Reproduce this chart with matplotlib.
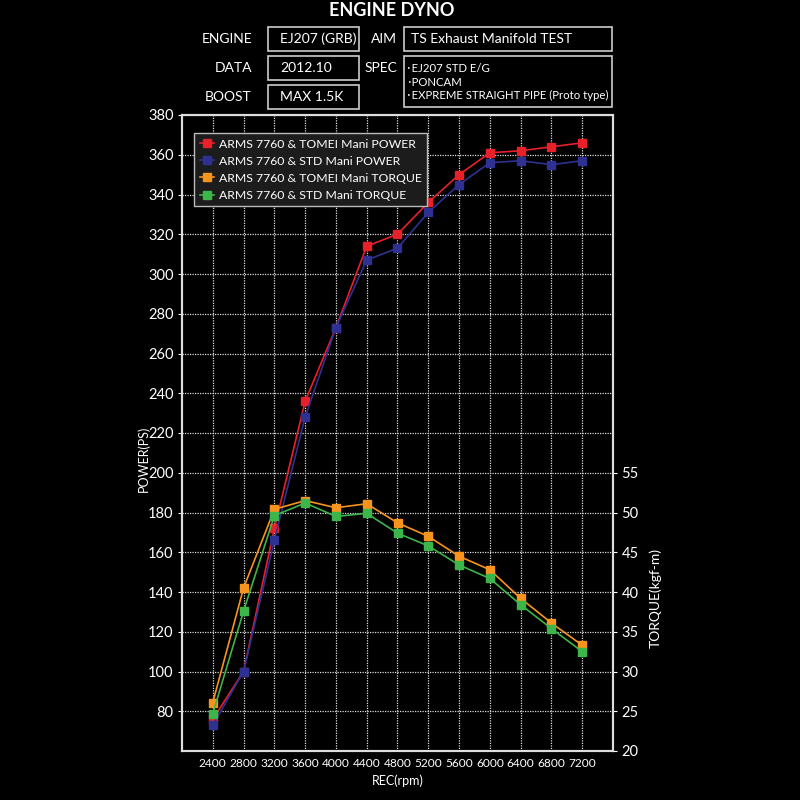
import matplotlib
matplotlib.use("Agg")
import matplotlib.pyplot as plt
from matplotlib.patches import Rectangle

plt.rcParams['font.family'] = ['Lato', 'Noto Sans CJK JP', 'DejaVu Sans']

# engine speed (rpm)
rpm = [2400, 2800, 3200, 3600, 4000, 4400, 4800, 5200, 5600, 6000, 6400, 6800, 7200]

# power (PS)
tomei_power = [76, 100, 172, 236, 273, 314, 320, 336, 350, 361, 362, 364, 366]
std_power = [73, 100, 166, 228, 273, 307, 313, 331, 345, 356, 357, 355, 357]

# torque (kgf-m)
tomei_torque = [26.1, 40.5, 50.4, 51.5, 50.6, 51.1, 48.7, 47.0, 44.5, 42.8, 39.2, 36.1, 33.3]
std_torque = [24.7, 37.6, 49.6, 51.2, 49.5, 49.9, 47.4, 45.8, 43.4, 41.7, 38.4, 35.4, 32.5]

labels = ["ARMS 7760 & TOMEI Mani POWER", "ARMS 7760 & STD Mani POWER",
          "ARMS 7760 & TOMEI Mani TORQUE", "ARMS 7760 & STD Mani TORQUE"]
colors = ["#e8202a", "#2e3192", "#f7941d", "#3cb54a"]

power_ticks = list(range(80, 381, 20))
torque_ticks = list(range(20, 56, 5))

fig = plt.figure(figsize=(8, 8), dpi=100, facecolor="black")


def px(x, y):
    return x / 800, 1 - y / 800


# header
fig.text(*px(392, 10), "ENGINE DYNO", color="white", fontsize=13, fontweight="bold",
         ha="center", va="center")


def box(x0, y0, x1, y1):
    fig.patches.append(Rectangle(px(x0, y1), (x1 - x0) / 800, (y1 - y0) / 800,
                                 transform=fig.transFigure, fill=False,
                                 edgecolor="#cccccc", linewidth=1.2))


left_labels = [("ENGINE", "EJ207 (GRB)", 27, 51), ("DATA", "2012.10", 56, 80),
               ("BOOST", "MAX 1.5K", 85, 109)]
for lab, val, y0, y1 in left_labels:
    yc = (y0 + y1) / 2
    fig.text(*px(252, yc), lab, color="white", fontsize=10, ha="right", va="center")
    box(268, y0, 359, y1)
    fig.text(*px(280, yc), val, color="white", fontsize=10, ha="left", va="center")

fig.text(*px(397, 39), "AIM", color="white", fontsize=10, ha="right", va="center")
box(404, 27, 612, 51)
fig.text(*px(411, 39), "TS Exhaust Manifold TEST", color="white", fontsize=10,
         ha="left", va="center")

fig.text(*px(397, 68), "SPEC", color="white", fontsize=10, ha="right", va="center")
box(404, 56, 612, 107)
spec_lines = ["･EJ207 STD E/G", "･PONCAM", "･EXPREME STRAIGHT PIPE (Proto type)"]
for i, line in enumerate(spec_lines):
    fig.text(*px(406, 69 + i * 13), line, color="white", fontsize=8.2,
             ha="left", va="center")

# main axes
ax = fig.add_axes([182 / 800, 1 - 751 / 800, 431 / 800, 636 / 800])
ax.set_facecolor("black")
ax2 = ax.twinx()

h1, = ax.plot(rpm, tomei_power, color=colors[0], marker="s", markersize=6, linewidth=1.2)
h2, = ax.plot(rpm, std_power, color=colors[1], marker="s", markersize=6, linewidth=1.2)
h3, = ax2.plot(rpm, tomei_torque, color=colors[2], marker="s", markersize=6, linewidth=1.2)
h4, = ax2.plot(rpm, std_torque, color=colors[3], marker="s", markersize=6, linewidth=1.2)

ax.set_xlim(2000, 7600)
ax.set_ylim(60, 380)
ax2.set_ylim(20, 100)
ax.set_xticks(rpm)
ax.set_yticks(power_ticks)
ax2.set_yticks(torque_ticks)

ax.grid(True, color="#dddddd", linestyle=(0, (1, 1)), linewidth=0.9)
ax.set_axisbelow(True)

for a in (ax, ax2):
    for s in a.spines.values():
        s.set_color("#dddddd")
        s.set_linewidth(1.5)
    a.tick_params(colors="white", labelsize=10.5, length=3, width=0.8, pad=3)
ax.tick_params(axis="x", length=0, pad=5, labelsize=8.6)

ax.set_xlabel("REC(rpm)", color="white", fontsize=9, labelpad=4)
ax.set_ylabel("POWER(PS)", color="white", fontsize=9, labelpad=4)
ax.yaxis.set_label_coords(-0.075, 0.46)
ax2.set_ylabel("TORQUE(kgf-m)", color="white", fontsize=10, labelpad=6)
ax2.yaxis.set_label_coords(1.085, 0.24)

leg = ax2.legend([h1, h2, h3, h4], labels, loc="upper left",
                 bbox_to_anchor=px(194, 133), bbox_transform=fig.transFigure,
                 borderaxespad=0, fontsize=8.8,
                 frameon=True, fancybox=False, handlelength=1.2,
                 handletextpad=0.4, borderpad=0.45, labelspacing=0.5)
leg.get_frame().set_facecolor("#1c1c1c")
leg.get_frame().set_edgecolor("#bbbbbb")
leg.get_frame().set_alpha(1)
for t in leg.get_texts():
    t.set_color("white")

fig.savefig("out.png", dpi=100, facecolor="black")
